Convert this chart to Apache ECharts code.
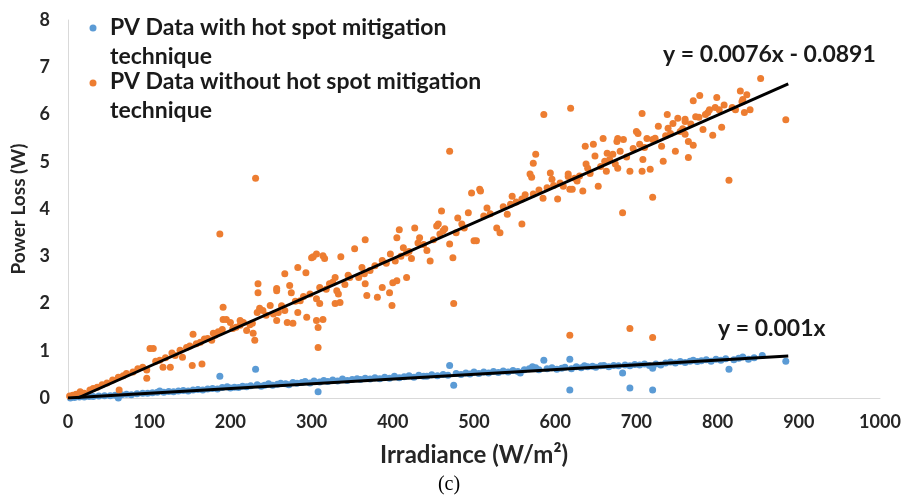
<!DOCTYPE html>
<html>
<head>
<meta charset="utf-8">
<script src="https://cdn.jsdelivr.net/npm/echarts@6/dist/echarts.min.js"></script>
<style>
    html, body { margin: 0; padding: 0; background: #fff; }
    #chart { width: 904px; height: 498px; }
</style>
</head>
<body>
<div id="chart"></div>
<script>
    // series names
    const nameWith = 'PV Data with hot spot mitigation technique';
    const nameWithout = 'PV Data without hot spot mitigation technique';

    // [irradiance, power loss]
    const withData = [
        [3,0.0],[8,0.01],[14,0.02],[20,0.02],[26,0.03],[31,0.03],[38,0.04],[45,0.05],[52,0.05],[58,0.06],
        [62,0.0],[66,0.07],[72,0.08],[78,0.07],[85,0.09],[92,0.1],[98,0.1],[104,0.11],[110,0.12],[113,0.15],
        [118,0.12],[124,0.14],[130,0.13],[136,0.15],[142,0.16],[148,0.15],[154,0.17],[160,0.18],[166,0.17],[172,0.19],
        [178,0.2],[184,0.19],[187,0.46],[190,0.22],[196,0.24],[200,0.21],[205,0.23],[210,0.22],[215,0.25],[220,0.24],
        [225,0.26],[231,0.61],[233,0.28],[238,0.25],[242,0.27],[247,0.3],[252,0.27],[258,0.29],[262,0.31],[268,0.3],
        [272,0.28],[277,0.33],[282,0.31],[288,0.33],[292,0.35],[298,0.32],[303,0.36],[308,0.13],[310,0.34],[315,0.37],
        [320,0.35],[326,0.38],[332,0.36],[338,0.4],[344,0.37],[350,0.39],[356,0.41],[360,0.39],[366,0.42],[372,0.4],
        [378,0.43],[384,0.41],[390,0.44],[396,0.42],[402,0.46],[408,0.43],[414,0.45],[420,0.47],[426,0.44],[432,0.48],
        [438,0.46],[442,0.46],[448,0.49],[455,0.47],[462,0.5],[468,0.48],[470,0.69],[475,0.27],[478,0.52],[484,0.5],
        [490,0.53],[495,0.51],[500,0.55],[506,0.52],[512,0.55],[518,0.53],[524,0.56],[530,0.54],[536,0.57],[542,0.55],
        [548,0.58],[554,0.56],[557,0.53],[562,0.6],[568,0.62],[572,0.66],[576,0.64],[580,0.6],[586,0.8],[590,0.62],
        [596,0.64],[602,0.61],[608,0.63],[612,0.65],[618,0.82],[618,0.17],[620,0.62],[626,0.66],[632,0.64],[636,0.68],
        [640,0.66],[646,0.67],[650,0.65],[656,0.68],[660,0.69],[666,0.66],[672,0.69],[678,0.68],[683,0.53],[686,0.7],
        [692,0.21],[692,0.68],[698,0.71],[704,0.7],[710,0.72],[716,0.69],[720,0.17],[720,0.63],[724,0.72],[730,0.7],
        [736,0.74],[742,0.76],[748,0.74],[754,0.77],[760,0.75],[766,0.78],[770,0.8],[775,0.77],[780,0.79],[786,0.81],
        [792,0.78],[798,0.82],[804,0.8],[810,0.83],[814,0.61],[820,0.81],[826,0.84],[831,0.87],[838,0.82],[845,0.85],
        [855,0.9],[884,0.78]
    ];

    const withoutData = [
        [2,0.04],[6,0.06],[10,0.08],[15,0.13],[20,0.1],[27,0.17],[31,0.2],[36,0.23],[42,0.28],[48,0.32],
        [55,0.38],[62,0.44],[63,0.17],[68,0.47],[72,0.52],[80,0.55],[86,0.62],[92,0.65],[97,0.59],[97,0.42],
        [101,1.05],[105,1.05],[108,0.78],[113,0.8],[117,0.65],[120,0.85],[126,0.65],[128,0.95],[132,0.9],[138,1.01],
        [141,0.86],[146,1.07],[150,1.1],[153,0.69],[154,1.35],[158,1.15],[163,1.18],[165,0.72],[168,1.25],[172,1.26],
        [177,1.22],[179,1.37],[181,1.33],[185,1.4],[187,3.47],[190,1.45],[191,1.92],[191,1.66],[195,1.66],[200,1.6],
        [203,1.47],[207,1.5],[212,1.54],[212,1.64],[216,1.6],[220,1.43],[224,1.55],[227,1.58],[228,1.37],[230,1.22],
        [231,4.65],[233,1.81],[234,2.42],[234,2.23],[236,1.9],[240,1.85],[244,1.75],[249,1.96],[253,1.78],[257,2.32],
        [257,2.27],[257,1.64],[259,1.81],[263,1.95],[267,2.63],[267,1.85],[270,1.6],[273,2.38],[275,2.23],[277,1.58],
        [280,2.05],[283,2.76],[283,1.81],[286,2.06],[290,2.15],[293,2.65],[294,1.71],[298,2.2],[300,2.97],[302,2.99],
        [306,3.05],[306,2.1],[306,1.64],[308,1.49],[308,1.07],[310,2.0],[310,2.34],[314,3.01],[314,1.66],[316,2.95],
        [318,2.3],[322,2.42],[326,2.45],[329,2.55],[329,2.0],[331,2.27],[333,2.2],[335,2.02],[336,2.99],[341,2.4],
        [345,2.6],[347,2.55],[353,3.16],[358,2.55],[362,2.76],[365,2.63],[366,3.35],[366,2.42],[368,2.17],[372,2.7],
        [378,2.8],[381,2.13],[387,2.34],[387,2.91],[392,2.85],[396,2.23],[397,3.05],[399,1.96],[400,2.44],[403,2.9],
        [405,3.39],[405,2.48],[408,3.56],[410,3.0],[413,3.18],[417,3.07],[417,2.55],[420,3.1],[423,2.95],[427,3.6],
        [431,3.28],[433,3.39],[438,3.25],[442,3.12],[446,2.9],[450,3.35],[454,3.64],[456,3.68],[458,3.47],[460,3.96],
        [462,3.54],[464,3.58],[470,3.26],[470,5.22],[474,2.97],[475,2.0],[478,3.5],[480,3.81],[485,3.68],[488,3.6],
        [493,3.92],[497,4.34],[500,3.33],[503,3.33],[507,4.42],[508,4.38],[512,3.85],[516,4.02],[520,3.9],[528,3.6],
        [532,3.5],[536,4.05],[541,3.89],[545,4.1],[547,4.27],[552,4.15],[559,3.68],[559,4.21],[563,4.3],[569,4.74],
        [571,4.67],[573,4.97],[573,4.32],[576,5.16],[580,4.4],[585,4.23],[586,6.0],[590,4.45],[594,4.76],[596,4.63],
        [598,4.5],[603,4.21],[606,4.55],[610,4.48],[616,4.69],[616,4.74],[618,4.42],[619,6.13],[618,1.33],[621,4.42],
        [624,4.65],[627,4.59],[630,4.7],[634,4.38],[637,5.33],[638,4.95],[640,4.86],[643,4.75],[647,5.37],[649,5.12],
        [653,4.48],[656,4.9],[659,5.49],[661,5.01],[663,4.8],[664,5.18],[667,5.05],[671,5.16],[674,4.95],[676,5.43],
        [677,5.49],[677,4.86],[680,5.22],[683,3.92],[684,5.47],[688,5.1],[692,4.8],[692,1.47],[696,5.28],[700,5.64],
        [702,5.6],[704,5.37],[707,6.02],[707,4.8],[708,5.05],[710,5.3],[713,5.49],[717,4.84],[720,5.47],[720,4.25],
        [720,1.28],[723,5.5],[727,5.75],[731,5.33],[733,5.01],[736,5.55],[738,6.0],[739,5.71],[742,5.6],[745,5.81],
        [748,5.22],[751,5.92],[754,5.64],[757,5.7],[760,5.85],[760,5.9],[760,5.58],[764,5.43],[764,5.09],[767,5.8],
        [770,5.35],[770,6.29],[773,5.95],[777,5.94],[778,6.4],[782,5.68],[785,6.0],[788,6.04],[790,6.1],[794,5.56],
        [797,6.15],[799,6.36],[802,6.1],[805,5.73],[808,6.2],[814,4.61],[818,6.15],[822,6.1],[828,6.5],[830,6.27],
        [831,6.32],[833,6.04],[836,6.42],[840,6.1],[853,6.76],[884,5.89]
    ];

    // linear trend lines, end points from the fitted equations
    const trendWith = [[0, 0], [887, 0.887]];
    const trendWithout = [[12, 0], [887, 6.65]];
    const eqWith = 'y = 0.001x';
    const eqWithout = 'y = 0.0076x - 0.0891';

    const blue = '#5B9BD5';
    const orange = '#ED7D31';
    const font = 'Lato';
    const textColor = '#1a1a1a';

    function label (text, x, y, size) {
        return {
            type: 'text', z: 10,
            style: {
                text: text, x: x, y: y,
                font: 'bold ' + size + 'px ' + font,
                fill: textColor, align: 'left', verticalAlign: 'middle'
            }
        };
    }

    const chart = echarts.init(document.getElementById('chart'), null, { renderer: 'canvas' });
    chart.setOption({
        animation: false,
        backgroundColor: '#fff',
        textStyle: { fontFamily: font },
        grid: { left: 68, right: 24, top: 20, bottom: 100 },
        xAxis: {
            type: 'value',
            min: 0,
            max: 1000,
            interval: 100,
            name: 'Irradiance (W/m²)',
            nameLocation: 'middle',
            nameGap: 45,
            nameTextStyle: { fontFamily: font, fontSize: 24, fontWeight: 'bold', color: '#262626' },
            axisLine: { show: true, lineStyle: { color: '#D9D9D9', width: 1 } },
            axisTick: { show: false },
            splitLine: { show: false },
            axisLabel: {
                margin: 15, fontFamily: font, fontSize: 18, fontWeight: 'bold', color: '#262626',
                formatter: function (v) { return String(v); }
            }
        },
        yAxis: {
            type: 'value',
            min: 0,
            max: 8,
            interval: 1,
            name: 'Power Loss (W)',
            nameLocation: 'middle',
            nameGap: 40,
            nameTextStyle: { fontFamily: font, fontSize: 19, fontWeight: 'bold', color: '#262626' },
            axisLine: { show: true, lineStyle: { color: '#D9D9D9', width: 1 } },
            axisTick: { show: false },
            splitLine: { show: false },
            axisLabel: { margin: 18, fontFamily: font, fontSize: 18, fontWeight: 'bold', color: '#262626' }
        },
        series: [
            {
                name: nameWith,
                type: 'scatter',
                data: withData,
                symbolSize: 7,
                itemStyle: { color: blue, opacity: 1 }
            },
            {
                name: nameWithout,
                type: 'scatter',
                data: withoutData,
                symbolSize: 7,
                itemStyle: { color: orange, opacity: 1 }
            },
            {
                type: 'line',
                data: trendWith,
                symbol: 'none',
                lineStyle: { color: '#000', width: 3 },
                z: 5
            },
            {
                type: 'line',
                data: trendWithout,
                symbol: 'none',
                lineStyle: { color: '#000', width: 3 },
                z: 5
            }
        ],
        graphic: [
            // legend
            { type: 'circle', shape: { cx: 93, cy: 28, r: 3.5 }, style: { fill: blue }, z: 10 },
            label('PV Data with hot spot mitigation', 110, 28, 23),
            label('technique', 110, 57, 23),
            { type: 'circle', shape: { cx: 93, cy: 83, r: 3.5 }, style: { fill: orange }, z: 10 },
            label('PV Data without hot spot mitigation', 110, 82, 23),
            label('technique', 110, 111, 23),
            // trend line equations
            label(eqWithout, 663, 55, 23),
            label(eqWith, 718, 329, 23),
            // caption
            {
                type: 'text', z: 10,
                style: {
                    text: '(c)', x: 449, y: 485, align: 'center', verticalAlign: 'middle',
                    font: '20px "Liberation Serif"', fill: '#000'
                }
            }
        ]
    });
</script>
</body>
</html>
